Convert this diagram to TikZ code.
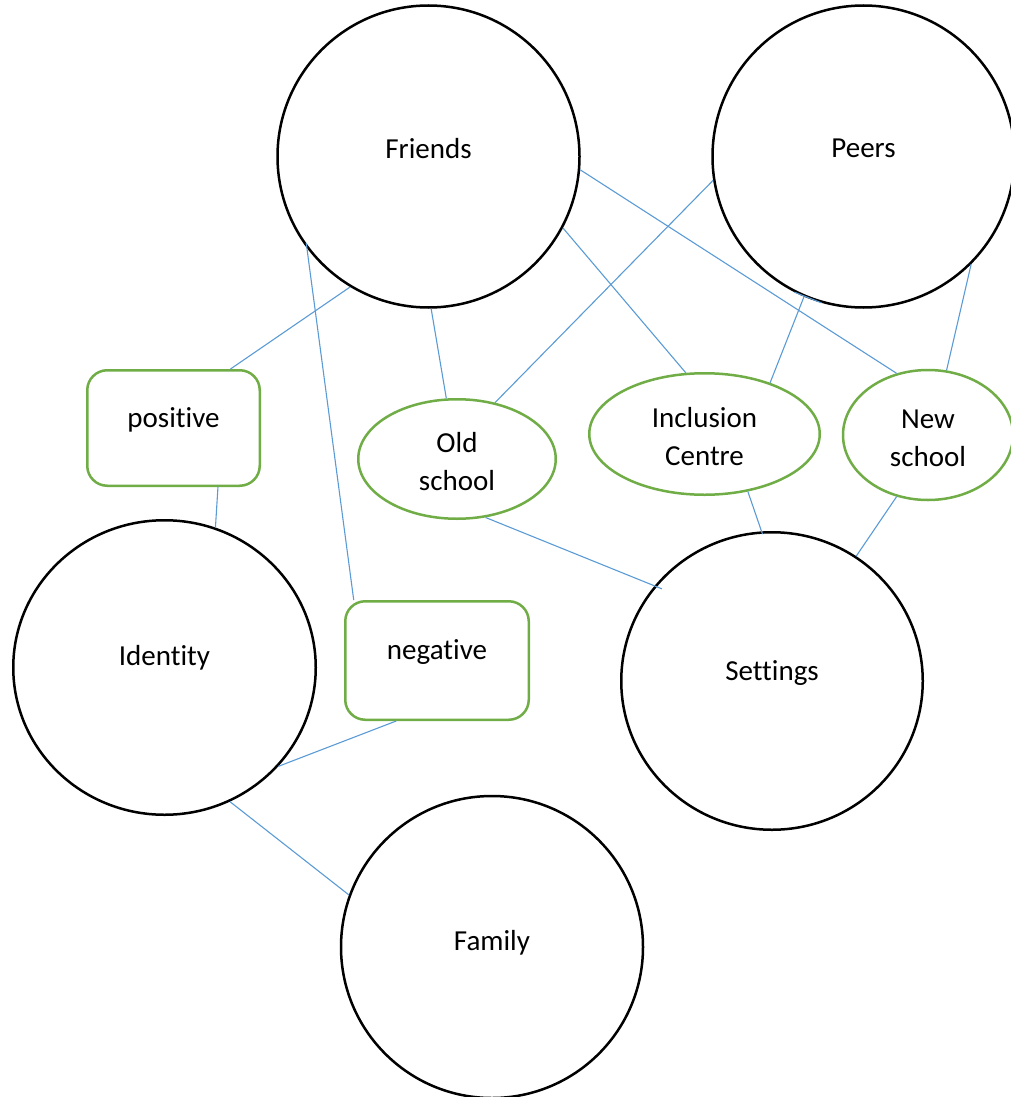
\documentclass[tikz,border=0pt]{standalone}
\usepackage{fontspec}
\setmainfont{Carlito}[Ligatures=NoCommon]
\usetikzlibrary{shapes.geometric}
\definecolor{leafgreen}{HTML}{70AD47}
\definecolor{linkblue}{HTML}{5B9BD5}
\begin{document}
\begin{tikzpicture}[x=1pt,y=-1pt,
  hub/.style={draw=black, line width=2.5pt, circle, inner sep=0pt, minimum size=302pt},
  hubell/.style={draw=black, line width=2.5pt, ellipse, inner sep=0pt},
  place/.style={draw=leafgreen, line width=2.5pt, ellipse, inner sep=0pt},
  tone/.style={draw=leafgreen, line width=2.5pt, rectangle, rounded corners=20pt, inner sep=0pt},
  link/.style={draw=linkblue, line width=1.1pt},
  word/.style={font=\fontsize{29}{38}\selectfont, align=center},
  oneline/.style={word, anchor=base, yshift=8pt},
  twoline/.style={word, yshift=-3pt},
]
\useasboundingbox (0,0) rectangle (1011,1097);

% black circles
\node[hub, label={[oneline]center:Friends}] (friends) at (428.5,156.5) {};
\node[hub, label={[oneline]center:Peers}] (peers) at (863.5,156.5) {};
\node[hubell, minimum width=302.5pt, minimum height=294.5pt,
      label={[oneline, yshift=2pt]center:Identity}] (identity) at (164.5,667.5) {};
\node[hubell, minimum width=301.5pt, minimum height=297.5pt,
      label={[oneline]center:Settings}] (settings) at (772,681) {};
\node[hub, label={[oneline, yshift=-4pt]center:Family}] (family) at (492,947) {};

% green ellipses
\node[place, minimum width=197.5pt, minimum height=119.5pt,
      label={[twoline]center:{Old\\school}}] (old) at (457,459) {};
\node[place, minimum width=230.5pt, minimum height=121.5pt,
      label={[twoline]center:{Inclusion\\Centre}}] (incl) at (704.5,434) {};
\node[place, minimum width=170pt, minimum height=130pt,
      label={[twoline]center:{New\\school}}] (new) at (928,435) {};

% green rounded boxes
\node[tone, minimum width=172.5pt, minimum height=115.5pt,
      label={[oneline]center:positive}] (positive) at (173.5,428) {};
\node[tone, minimum width=183.5pt, minimum height=118.5pt,
      label={[oneline]center:negative}] (negative) at (437,660.5) {};

% connectors
\draw[link] (friends.239.5) -- (positive.46);
\draw[link] (positive.-53.6) -- (identity.70);
\draw[link, shorten <=-5pt] (friends.217) -- (negative.144.1);
\draw[link] (friends.271) -- (old.100);
\draw[link] (friends.-28.5) -- (incl.107);
\draw[link] (friends.-5.3) -- (new.117);
\draw[link] (peers.189.6) -- (old.56);
\draw[link] (peers.247) -- (incl.38);
\draw[link] (peers.243) -- (peers.254);
\draw[link] (peers.-45.8) -- (new.74.5);
\draw[link, shorten >=-8pt] (old.-64) -- (settings.141.6);
\draw[link, shorten >=-3pt] (incl.-53.6) -- (settings.94.7);
\draw[link] (new.243.8) -- (settings.56);
\draw[link] (negative.236.6) -- (identity.-41.8);
\draw[link] (identity.-64.4) -- (family.160);
\end{tikzpicture}
\end{document}
